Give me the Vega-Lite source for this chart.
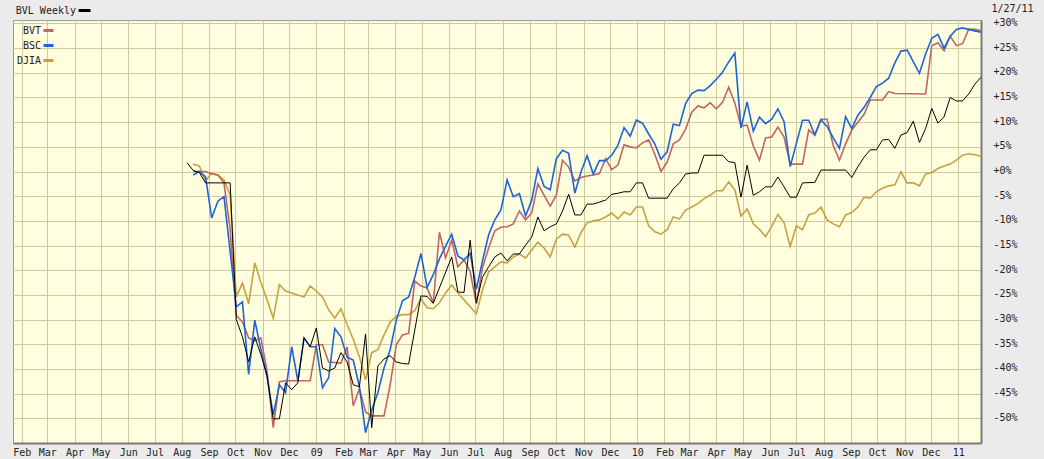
{
"$schema": "https://vega.github.io/schema/vega-lite/v6.json",
"width": 968, "height": 423,
"autosize": {"type": "none"},
"padding": {"left": 13, "top": 20, "right": 63, "bottom": 16},
"background": "#ebebeb",
"config": {
  "view": {"fill": "#ffffe0", "stroke": "#9a9a9a", "strokeWidth": 1},
  "font": "DejaVu Sans Mono",
  "axis": {"gridColor": "#cdcb9c", "gridWidth": 1, "gridOpacity": 1, "labelColor": "#222222", "labelFontSize": 10, "domainColor": "#7a7a7a", "domainWidth": 2, "ticks": false, "tickSize": 0, "titleColor": "#222222", "labelOverlap": false},
  "legend": {"padding": 0, "labelFontSize": 10, "labelColor": "#222222", "symbolType": "stroke", "symbolStrokeWidth": 3, "labelAlign": "right", "labelLimit": 0}
},
"data": {"values": [
{"s":"DJIA","d":"2008-08-14","v":1.5},{"s":"DJIA","d":"2008-08-21","v":1.1},{"s":"DJIA","d":"2008-08-28","v":-1.9},{"s":"DJIA","d":"2008-09-04","v":-0.3},{"s":"DJIA","d":"2008-09-11","v":-0.7},{"s":"DJIA","d":"2008-09-18","v":-1.7},{"s":"DJIA","d":"2008-09-25","v":-4.8},{"s":"DJIA","d":"2008-10-02","v":-25.4},{"s":"DJIA","d":"2008-10-09","v":-22.6},{"s":"DJIA","d":"2008-10-16","v":-26.8},{"s":"DJIA","d":"2008-10-23","v":-18.5},{"s":"DJIA","d":"2008-10-30","v":-22.5},{"s":"DJIA","d":"2008-11-06","v":-26.0},{"s":"DJIA","d":"2008-11-13","v":-29.7},{"s":"DJIA","d":"2008-11-20","v":-22.9},{"s":"DJIA","d":"2008-11-27","v":-24.2},{"s":"DJIA","d":"2008-12-04","v":-24.6},{"s":"DJIA","d":"2008-12-11","v":-25.0},{"s":"DJIA","d":"2008-12-18","v":-25.4},{"s":"DJIA","d":"2008-12-25","v":-23.2},{"s":"DJIA","d":"2009-01-01","v":-24.2},{"s":"DJIA","d":"2009-01-08","v":-25.4},{"s":"DJIA","d":"2009-01-15","v":-28.0},{"s":"DJIA","d":"2009-01-22","v":-29.7},{"s":"DJIA","d":"2009-01-29","v":-27.8},{"s":"DJIA","d":"2009-02-05","v":-31.0},{"s":"DJIA","d":"2009-02-12","v":-34.0},{"s":"DJIA","d":"2009-02-19","v":-37.5},{"s":"DJIA","d":"2009-02-26","v":-42.2},{"s":"DJIA","d":"2009-03-05","v":-36.7},{"s":"DJIA","d":"2009-03-12","v":-36.1},{"s":"DJIA","d":"2009-03-19","v":-33.1},{"s":"DJIA","d":"2009-03-26","v":-30.5},{"s":"DJIA","d":"2009-04-02","v":-29.3},{"s":"DJIA","d":"2009-04-09","v":-29.0},{"s":"DJIA","d":"2009-04-16","v":-29.0},{"s":"DJIA","d":"2009-04-23","v":-28.2},{"s":"DJIA","d":"2009-04-30","v":-25.8},{"s":"DJIA","d":"2009-05-07","v":-27.6},{"s":"DJIA","d":"2009-05-14","v":-27.8},{"s":"DJIA","d":"2009-05-21","v":-26.6},{"s":"DJIA","d":"2009-05-28","v":-24.6},{"s":"DJIA","d":"2009-06-04","v":-23.0},{"s":"DJIA","d":"2009-06-11","v":-24.6},{"s":"DJIA","d":"2009-06-18","v":-26.0},{"s":"DJIA","d":"2009-06-25","v":-27.4},{"s":"DJIA","d":"2009-07-02","v":-28.8},{"s":"DJIA","d":"2009-07-09","v":-24.0},{"s":"DJIA","d":"2009-07-16","v":-20.3},{"s":"DJIA","d":"2009-07-23","v":-19.3},{"s":"DJIA","d":"2009-07-30","v":-18.3},{"s":"DJIA","d":"2009-08-06","v":-18.5},{"s":"DJIA","d":"2009-08-13","v":-17.3},{"s":"DJIA","d":"2009-08-20","v":-16.7},{"s":"DJIA","d":"2009-08-27","v":-17.5},{"s":"DJIA","d":"2009-09-03","v":-15.9},{"s":"DJIA","d":"2009-09-10","v":-14.3},{"s":"DJIA","d":"2009-09-17","v":-15.5},{"s":"DJIA","d":"2009-09-24","v":-17.3},{"s":"DJIA","d":"2009-10-01","v":-13.7},{"s":"DJIA","d":"2009-10-08","v":-12.7},{"s":"DJIA","d":"2009-10-15","v":-12.9},{"s":"DJIA","d":"2009-10-22","v":-15.3},{"s":"DJIA","d":"2009-10-29","v":-12.4},{"s":"DJIA","d":"2009-11-05","v":-10.4},{"s":"DJIA","d":"2009-11-12","v":-10.0},{"s":"DJIA","d":"2009-11-19","v":-9.8},{"s":"DJIA","d":"2009-11-26","v":-9.2},{"s":"DJIA","d":"2009-12-03","v":-8.4},{"s":"DJIA","d":"2009-12-10","v":-9.6},{"s":"DJIA","d":"2009-12-17","v":-8.2},{"s":"DJIA","d":"2009-12-24","v":-8.8},{"s":"DJIA","d":"2009-12-31","v":-7.2},{"s":"DJIA","d":"2010-01-07","v":-7.2},{"s":"DJIA","d":"2010-01-14","v":-11.0},{"s":"DJIA","d":"2010-01-21","v":-12.2},{"s":"DJIA","d":"2010-01-28","v":-12.7},{"s":"DJIA","d":"2010-02-04","v":-11.8},{"s":"DJIA","d":"2010-02-11","v":-9.2},{"s":"DJIA","d":"2010-02-18","v":-9.6},{"s":"DJIA","d":"2010-02-25","v":-7.8},{"s":"DJIA","d":"2010-03-04","v":-7.2},{"s":"DJIA","d":"2010-03-11","v":-6.5},{"s":"DJIA","d":"2010-03-18","v":-5.5},{"s":"DJIA","d":"2010-03-25","v":-4.8},{"s":"DJIA","d":"2010-04-01","v":-3.9},{"s":"DJIA","d":"2010-04-08","v":-3.9},{"s":"DJIA","d":"2010-04-15","v":-2.1},{"s":"DJIA","d":"2010-04-22","v":-3.7},{"s":"DJIA","d":"2010-04-29","v":-9.0},{"s":"DJIA","d":"2010-05-06","v":-7.6},{"s":"DJIA","d":"2010-05-13","v":-10.6},{"s":"DJIA","d":"2010-05-20","v":-11.7},{"s":"DJIA","d":"2010-05-27","v":-13.2},{"s":"DJIA","d":"2010-06-03","v":-11.1},{"s":"DJIA","d":"2010-06-10","v":-8.7},{"s":"DJIA","d":"2010-06-17","v":-10.4},{"s":"DJIA","d":"2010-06-24","v":-15.2},{"s":"DJIA","d":"2010-07-01","v":-11.0},{"s":"DJIA","d":"2010-07-08","v":-11.8},{"s":"DJIA","d":"2010-07-15","v":-8.8},{"s":"DJIA","d":"2010-07-22","v":-8.4},{"s":"DJIA","d":"2010-07-29","v":-7.2},{"s":"DJIA","d":"2010-08-05","v":-9.8},{"s":"DJIA","d":"2010-08-12","v":-10.6},{"s":"DJIA","d":"2010-08-19","v":-11.2},{"s":"DJIA","d":"2010-08-26","v":-8.8},{"s":"DJIA","d":"2010-09-02","v":-8.3},{"s":"DJIA","d":"2010-09-09","v":-7.2},{"s":"DJIA","d":"2010-09-16","v":-5.2},{"s":"DJIA","d":"2010-09-23","v":-5.4},{"s":"DJIA","d":"2010-09-30","v":-4.1},{"s":"DJIA","d":"2010-10-07","v":-3.4},{"s":"DJIA","d":"2010-10-14","v":-2.9},{"s":"DJIA","d":"2010-10-21","v":-2.7},{"s":"DJIA","d":"2010-10-28","v":-0.1},{"s":"DJIA","d":"2010-11-04","v":-2.3},{"s":"DJIA","d":"2010-11-11","v":-2.3},{"s":"DJIA","d":"2010-11-18","v":-2.9},{"s":"DJIA","d":"2010-11-25","v":-0.5},{"s":"DJIA","d":"2010-12-02","v":-0.2},{"s":"DJIA","d":"2010-12-09","v":0.6},{"s":"DJIA","d":"2010-12-16","v":1.1},{"s":"DJIA","d":"2010-12-23","v":1.5},{"s":"DJIA","d":"2010-12-30","v":2.3},{"s":"DJIA","d":"2011-01-06","v":3.3},{"s":"DJIA","d":"2011-01-13","v":3.6},{"s":"DJIA","d":"2011-01-20","v":3.4},{"s":"DJIA","d":"2011-01-27","v":3.1},
{"s":"BVT","d":"2008-08-14","v":0.0},{"s":"BVT","d":"2008-08-21","v":0.0},{"s":"BVT","d":"2008-08-28","v":0.0},{"s":"BVT","d":"2008-09-04","v":-0.5},{"s":"BVT","d":"2008-09-11","v":-0.7},{"s":"BVT","d":"2008-09-18","v":-2.3},{"s":"BVT","d":"2008-09-25","v":-11.8},{"s":"BVT","d":"2008-10-02","v":-29.1},{"s":"BVT","d":"2008-10-09","v":-30.5},{"s":"BVT","d":"2008-10-16","v":-33.7},{"s":"BVT","d":"2008-10-23","v":-34.3},{"s":"BVT","d":"2008-10-30","v":-33.7},{"s":"BVT","d":"2008-11-06","v":-40.6},{"s":"BVT","d":"2008-11-13","v":-51.9},{"s":"BVT","d":"2008-11-20","v":-42.6},{"s":"BVT","d":"2008-11-27","v":-42.4},{"s":"BVT","d":"2008-12-25","v":-42.4},{"s":"BVT","d":"2009-01-01","v":-35.1},{"s":"BVT","d":"2009-01-08","v":-35.1},{"s":"BVT","d":"2009-01-15","v":-38.6},{"s":"BVT","d":"2009-01-29","v":-38.8},{"s":"BVT","d":"2009-02-05","v":-35.5},{"s":"BVT","d":"2009-02-12","v":-47.5},{"s":"BVT","d":"2009-02-19","v":-44.0},{"s":"BVT","d":"2009-02-26","v":-48.7},{"s":"BVT","d":"2009-03-05","v":-49.5},{"s":"BVT","d":"2009-03-19","v":-49.5},{"s":"BVT","d":"2009-03-26","v":-43.2},{"s":"BVT","d":"2009-04-02","v":-35.1},{"s":"BVT","d":"2009-04-09","v":-33.1},{"s":"BVT","d":"2009-04-16","v":-32.8},{"s":"BVT","d":"2009-04-23","v":-22.2},{"s":"BVT","d":"2009-04-30","v":-23.2},{"s":"BVT","d":"2009-05-07","v":-23.6},{"s":"BVT","d":"2009-05-14","v":-26.6},{"s":"BVT","d":"2009-05-21","v":-12.3},{"s":"BVT","d":"2009-05-28","v":-17.5},{"s":"BVT","d":"2009-06-04","v":-13.9},{"s":"BVT","d":"2009-06-11","v":-19.3},{"s":"BVT","d":"2009-06-18","v":-17.9},{"s":"BVT","d":"2009-06-25","v":-20.3},{"s":"BVT","d":"2009-07-02","v":-26.8},{"s":"BVT","d":"2009-07-09","v":-19.5},{"s":"BVT","d":"2009-07-16","v":-15.5},{"s":"BVT","d":"2009-07-23","v":-12.0},{"s":"BVT","d":"2009-07-30","v":-11.3},{"s":"BVT","d":"2009-08-06","v":-11.2},{"s":"BVT","d":"2009-08-13","v":-10.6},{"s":"BVT","d":"2009-08-20","v":-8.0},{"s":"BVT","d":"2009-08-27","v":-9.8},{"s":"BVT","d":"2009-09-03","v":-8.4},{"s":"BVT","d":"2009-09-10","v":-2.5},{"s":"BVT","d":"2009-09-17","v":-4.8},{"s":"BVT","d":"2009-09-24","v":-7.0},{"s":"BVT","d":"2009-10-01","v":-4.8},{"s":"BVT","d":"2009-10-08","v":2.3},{"s":"BVT","d":"2009-10-15","v":0.9},{"s":"BVT","d":"2009-10-22","v":-1.9},{"s":"BVT","d":"2009-10-29","v":-1.2},{"s":"BVT","d":"2009-11-05","v":-0.9},{"s":"BVT","d":"2009-11-12","v":-0.7},{"s":"BVT","d":"2009-11-19","v":-0.4},{"s":"BVT","d":"2009-11-26","v":2.6},{"s":"BVT","d":"2009-12-03","v":0.4},{"s":"BVT","d":"2009-12-10","v":1.3},{"s":"BVT","d":"2009-12-17","v":5.4},{"s":"BVT","d":"2009-12-24","v":5.0},{"s":"BVT","d":"2009-12-31","v":4.8},{"s":"BVT","d":"2010-01-07","v":5.8},{"s":"BVT","d":"2010-01-14","v":6.4},{"s":"BVT","d":"2010-01-21","v":3.5},{"s":"BVT","d":"2010-01-28","v":0.0},{"s":"BVT","d":"2010-02-04","v":1.9},{"s":"BVT","d":"2010-02-11","v":5.6},{"s":"BVT","d":"2010-02-18","v":6.4},{"s":"BVT","d":"2010-02-25","v":8.6},{"s":"BVT","d":"2010-03-04","v":12.0},{"s":"BVT","d":"2010-03-11","v":13.3},{"s":"BVT","d":"2010-03-18","v":12.9},{"s":"BVT","d":"2010-03-25","v":13.9},{"s":"BVT","d":"2010-04-01","v":12.7},{"s":"BVT","d":"2010-04-08","v":14.0},{"s":"BVT","d":"2010-04-15","v":17.1},{"s":"BVT","d":"2010-04-22","v":13.9},{"s":"BVT","d":"2010-04-29","v":9.2},{"s":"BVT","d":"2010-05-06","v":9.4},{"s":"BVT","d":"2010-05-13","v":5.2},{"s":"BVT","d":"2010-05-20","v":2.3},{"s":"BVT","d":"2010-05-27","v":6.8},{"s":"BVT","d":"2010-06-03","v":7.0},{"s":"BVT","d":"2010-06-10","v":9.0},{"s":"BVT","d":"2010-06-17","v":7.0},{"s":"BVT","d":"2010-06-24","v":1.5},{"s":"BVT","d":"2010-07-08","v":1.5},{"s":"BVT","d":"2010-07-15","v":8.4},{"s":"BVT","d":"2010-07-22","v":7.4},{"s":"BVT","d":"2010-07-29","v":10.6},{"s":"BVT","d":"2010-08-05","v":10.6},{"s":"BVT","d":"2010-08-12","v":5.2},{"s":"BVT","d":"2010-08-19","v":2.3},{"s":"BVT","d":"2010-08-26","v":5.6},{"s":"BVT","d":"2010-09-02","v":8.4},{"s":"BVT","d":"2010-09-09","v":10.0},{"s":"BVT","d":"2010-09-16","v":11.6},{"s":"BVT","d":"2010-09-23","v":14.5},{"s":"BVT","d":"2010-10-07","v":14.5},{"s":"BVT","d":"2010-10-14","v":16.2},{"s":"BVT","d":"2010-10-21","v":15.8},{"s":"BVT","d":"2010-11-25","v":15.7},{"s":"BVT","d":"2010-12-02","v":25.5},{"s":"BVT","d":"2010-12-09","v":26.1},{"s":"BVT","d":"2010-12-16","v":24.5},{"s":"BVT","d":"2010-12-23","v":27.4},{"s":"BVT","d":"2010-12-30","v":25.5},{"s":"BVT","d":"2011-01-06","v":25.9},{"s":"BVT","d":"2011-01-13","v":28.8},{"s":"BVT","d":"2011-01-20","v":28.8},{"s":"BVT","d":"2011-01-27","v":28.5},
{"s":"BSC","d":"2008-08-14","v":-0.7},{"s":"BSC","d":"2008-08-21","v":0.0},{"s":"BSC","d":"2008-08-28","v":-1.1},{"s":"BSC","d":"2008-09-04","v":-9.4},{"s":"BSC","d":"2008-09-11","v":-6.0},{"s":"BSC","d":"2008-09-18","v":-5.1},{"s":"BSC","d":"2008-10-02","v":-27.4},{"s":"BSC","d":"2008-10-09","v":-26.4},{"s":"BSC","d":"2008-10-16","v":-41.1},{"s":"BSC","d":"2008-10-23","v":-30.1},{"s":"BSC","d":"2008-10-30","v":-36.1},{"s":"BSC","d":"2008-11-06","v":-41.6},{"s":"BSC","d":"2008-11-13","v":-49.3},{"s":"BSC","d":"2008-11-20","v":-43.2},{"s":"BSC","d":"2008-11-27","v":-44.8},{"s":"BSC","d":"2008-12-04","v":-35.5},{"s":"BSC","d":"2008-12-11","v":-42.4},{"s":"BSC","d":"2008-12-18","v":-33.7},{"s":"BSC","d":"2008-12-25","v":-35.5},{"s":"BSC","d":"2009-01-01","v":-35.5},{"s":"BSC","d":"2009-01-08","v":-43.8},{"s":"BSC","d":"2009-01-15","v":-41.8},{"s":"BSC","d":"2009-01-22","v":-31.8},{"s":"BSC","d":"2009-01-29","v":-33.5},{"s":"BSC","d":"2009-02-05","v":-37.6},{"s":"BSC","d":"2009-02-12","v":-38.2},{"s":"BSC","d":"2009-02-19","v":-43.6},{"s":"BSC","d":"2009-02-26","v":-52.9},{"s":"BSC","d":"2009-03-05","v":-48.3},{"s":"BSC","d":"2009-03-12","v":-44.8},{"s":"BSC","d":"2009-03-19","v":-39.8},{"s":"BSC","d":"2009-03-26","v":-36.1},{"s":"BSC","d":"2009-04-02","v":-30.1},{"s":"BSC","d":"2009-04-09","v":-26.2},{"s":"BSC","d":"2009-04-16","v":-25.4},{"s":"BSC","d":"2009-04-23","v":-21.4},{"s":"BSC","d":"2009-04-30","v":-16.6},{"s":"BSC","d":"2009-05-07","v":-23.5},{"s":"BSC","d":"2009-05-14","v":-20.9},{"s":"BSC","d":"2009-05-21","v":-17.7},{"s":"BSC","d":"2009-05-28","v":-15.1},{"s":"BSC","d":"2009-06-04","v":-12.7},{"s":"BSC","d":"2009-06-11","v":-17.1},{"s":"BSC","d":"2009-06-18","v":-17.9},{"s":"BSC","d":"2009-06-25","v":-16.6},{"s":"BSC","d":"2009-07-02","v":-23.8},{"s":"BSC","d":"2009-07-09","v":-18.1},{"s":"BSC","d":"2009-07-16","v":-12.8},{"s":"BSC","d":"2009-07-23","v":-9.8},{"s":"BSC","d":"2009-07-30","v":-7.8},{"s":"BSC","d":"2009-08-06","v":-1.7},{"s":"BSC","d":"2009-08-13","v":-5.1},{"s":"BSC","d":"2009-08-20","v":-4.5},{"s":"BSC","d":"2009-08-27","v":-9.0},{"s":"BSC","d":"2009-09-03","v":-5.8},{"s":"BSC","d":"2009-09-10","v":0.6},{"s":"BSC","d":"2009-09-17","v":-3.0},{"s":"BSC","d":"2009-09-24","v":-3.7},{"s":"BSC","d":"2009-10-01","v":2.6},{"s":"BSC","d":"2009-10-08","v":4.3},{"s":"BSC","d":"2009-10-15","v":3.7},{"s":"BSC","d":"2009-10-22","v":-4.4},{"s":"BSC","d":"2009-10-29","v":-0.1},{"s":"BSC","d":"2009-11-05","v":3.2},{"s":"BSC","d":"2009-11-12","v":-0.5},{"s":"BSC","d":"2009-11-19","v":2.2},{"s":"BSC","d":"2009-11-26","v":2.2},{"s":"BSC","d":"2009-12-03","v":3.3},{"s":"BSC","d":"2009-12-10","v":5.3},{"s":"BSC","d":"2009-12-17","v":8.9},{"s":"BSC","d":"2009-12-24","v":7.2},{"s":"BSC","d":"2009-12-31","v":10.4},{"s":"BSC","d":"2010-01-07","v":9.8},{"s":"BSC","d":"2010-01-14","v":7.6},{"s":"BSC","d":"2010-01-21","v":5.6},{"s":"BSC","d":"2010-01-28","v":2.5},{"s":"BSC","d":"2010-02-04","v":4.0},{"s":"BSC","d":"2010-02-11","v":9.6},{"s":"BSC","d":"2010-02-18","v":9.3},{"s":"BSC","d":"2010-02-25","v":13.8},{"s":"BSC","d":"2010-03-04","v":15.8},{"s":"BSC","d":"2010-03-11","v":16.5},{"s":"BSC","d":"2010-03-18","v":16.4},{"s":"BSC","d":"2010-03-25","v":17.4},{"s":"BSC","d":"2010-04-01","v":18.7},{"s":"BSC","d":"2010-04-08","v":20.1},{"s":"BSC","d":"2010-04-15","v":22.2},{"s":"BSC","d":"2010-04-22","v":24.0},{"s":"BSC","d":"2010-04-29","v":8.8},{"s":"BSC","d":"2010-05-06","v":14.1},{"s":"BSC","d":"2010-05-13","v":8.2},{"s":"BSC","d":"2010-05-20","v":11.0},{"s":"BSC","d":"2010-05-27","v":9.7},{"s":"BSC","d":"2010-06-03","v":10.6},{"s":"BSC","d":"2010-06-10","v":12.7},{"s":"BSC","d":"2010-06-17","v":10.1},{"s":"BSC","d":"2010-06-24","v":1.0},{"s":"BSC","d":"2010-07-01","v":5.7},{"s":"BSC","d":"2010-07-08","v":10.4},{"s":"BSC","d":"2010-07-15","v":10.4},{"s":"BSC","d":"2010-07-22","v":7.4},{"s":"BSC","d":"2010-07-29","v":10.5},{"s":"BSC","d":"2010-08-05","v":9.1},{"s":"BSC","d":"2010-08-12","v":6.8},{"s":"BSC","d":"2010-08-19","v":4.7},{"s":"BSC","d":"2010-08-26","v":11.1},{"s":"BSC","d":"2010-09-02","v":8.7},{"s":"BSC","d":"2010-09-09","v":11.4},{"s":"BSC","d":"2010-09-16","v":13.0},{"s":"BSC","d":"2010-09-23","v":15.0},{"s":"BSC","d":"2010-09-30","v":17.2},{"s":"BSC","d":"2010-10-07","v":17.9},{"s":"BSC","d":"2010-10-14","v":18.9},{"s":"BSC","d":"2010-10-21","v":22.0},{"s":"BSC","d":"2010-10-28","v":24.4},{"s":"BSC","d":"2010-11-04","v":24.6},{"s":"BSC","d":"2010-11-18","v":19.9},{"s":"BSC","d":"2010-11-25","v":23.8},{"s":"BSC","d":"2010-12-02","v":27.0},{"s":"BSC","d":"2010-12-09","v":27.8},{"s":"BSC","d":"2010-12-16","v":25.0},{"s":"BSC","d":"2010-12-23","v":27.4},{"s":"BSC","d":"2010-12-30","v":28.8},{"s":"BSC","d":"2011-01-06","v":29.1},{"s":"BSC","d":"2011-01-13","v":28.8},{"s":"BSC","d":"2011-01-20","v":28.5},{"s":"BSC","d":"2011-01-27","v":28.2},
{"s":"BVL","d":"2008-08-07","v":1.8},{"s":"BVL","d":"2008-08-14","v":0.2},{"s":"BVL","d":"2008-08-21","v":-0.2},{"s":"BVL","d":"2008-08-28","v":-2.3},{"s":"BVL","d":"2008-09-25","v":-2.3},{"s":"BVL","d":"2008-10-02","v":-30.0},{"s":"BVL","d":"2008-10-09","v":-33.5},{"s":"BVL","d":"2008-10-16","v":-38.6},{"s":"BVL","d":"2008-10-23","v":-33.5},{"s":"BVL","d":"2008-10-30","v":-37.1},{"s":"BVL","d":"2008-11-06","v":-41.4},{"s":"BVL","d":"2008-11-13","v":-50.1},{"s":"BVL","d":"2008-11-20","v":-50.1},{"s":"BVL","d":"2008-11-27","v":-42.8},{"s":"BVL","d":"2008-12-04","v":-44.2},{"s":"BVL","d":"2008-12-11","v":-42.8},{"s":"BVL","d":"2008-12-18","v":-33.7},{"s":"BVL","d":"2008-12-25","v":-35.5},{"s":"BVL","d":"2009-01-01","v":-31.7},{"s":"BVL","d":"2009-01-08","v":-39.8},{"s":"BVL","d":"2009-01-15","v":-40.4},{"s":"BVL","d":"2009-01-22","v":-39.8},{"s":"BVL","d":"2009-01-29","v":-36.7},{"s":"BVL","d":"2009-02-05","v":-38.6},{"s":"BVL","d":"2009-02-12","v":-43.2},{"s":"BVL","d":"2009-02-19","v":-43.6},{"s":"BVL","d":"2009-02-26","v":-32.9},{"s":"BVL","d":"2009-03-05","v":-51.9},{"s":"BVL","d":"2009-03-12","v":-39.4},{"s":"BVL","d":"2009-03-19","v":-38.0},{"s":"BVL","d":"2009-03-26","v":-37.3},{"s":"BVL","d":"2009-04-02","v":-38.6},{"s":"BVL","d":"2009-04-09","v":-38.9},{"s":"BVL","d":"2009-04-16","v":-39.0},{"s":"BVL","d":"2009-04-30","v":-25.2},{"s":"BVL","d":"2009-05-07","v":-25.3},{"s":"BVL","d":"2009-05-14","v":-26.7},{"s":"BVL","d":"2009-06-04","v":-17.3},{"s":"BVL","d":"2009-06-11","v":-24.4},{"s":"BVL","d":"2009-06-18","v":-24.5},{"s":"BVL","d":"2009-06-25","v":-13.9},{"s":"BVL","d":"2009-07-02","v":-26.6},{"s":"BVL","d":"2009-07-09","v":-21.4},{"s":"BVL","d":"2009-07-16","v":-19.3},{"s":"BVL","d":"2009-07-23","v":-17.3},{"s":"BVL","d":"2009-07-30","v":-16.5},{"s":"BVL","d":"2009-08-06","v":-18.1},{"s":"BVL","d":"2009-08-13","v":-16.7},{"s":"BVL","d":"2009-08-20","v":-16.7},{"s":"BVL","d":"2009-08-27","v":-14.9},{"s":"BVL","d":"2009-09-03","v":-13.3},{"s":"BVL","d":"2009-09-10","v":-9.2},{"s":"BVL","d":"2009-09-17","v":-12.0},{"s":"BVL","d":"2009-09-24","v":-11.2},{"s":"BVL","d":"2009-10-01","v":-10.6},{"s":"BVL","d":"2009-10-08","v":-8.0},{"s":"BVL","d":"2009-10-15","v":-4.6},{"s":"BVL","d":"2009-10-22","v":-8.8},{"s":"BVL","d":"2009-10-29","v":-8.8},{"s":"BVL","d":"2009-11-05","v":-6.6},{"s":"BVL","d":"2009-11-12","v":-6.6},{"s":"BVL","d":"2009-11-19","v":-6.2},{"s":"BVL","d":"2009-11-26","v":-5.8},{"s":"BVL","d":"2009-12-03","v":-4.6},{"s":"BVL","d":"2009-12-10","v":-4.4},{"s":"BVL","d":"2009-12-17","v":-4.1},{"s":"BVL","d":"2009-12-24","v":-4.1},{"s":"BVL","d":"2009-12-31","v":-2.3},{"s":"BVL","d":"2010-01-07","v":-2.3},{"s":"BVL","d":"2010-01-14","v":-5.4},{"s":"BVL","d":"2010-02-04","v":-5.4},{"s":"BVL","d":"2010-02-11","v":-3.5},{"s":"BVL","d":"2010-02-18","v":-2.3},{"s":"BVL","d":"2010-02-25","v":-0.5},{"s":"BVL","d":"2010-03-04","v":-0.3},{"s":"BVL","d":"2010-03-11","v":-0.3},{"s":"BVL","d":"2010-03-18","v":3.3},{"s":"BVL","d":"2010-04-08","v":3.3},{"s":"BVL","d":"2010-04-15","v":2.0},{"s":"BVL","d":"2010-04-22","v":1.8},{"s":"BVL","d":"2010-04-29","v":-5.2},{"s":"BVL","d":"2010-05-06","v":1.3},{"s":"BVL","d":"2010-05-13","v":-4.8},{"s":"BVL","d":"2010-05-20","v":-4.1},{"s":"BVL","d":"2010-05-27","v":-3.1},{"s":"BVL","d":"2010-06-03","v":-3.1},{"s":"BVL","d":"2010-06-10","v":-1.1},{"s":"BVL","d":"2010-06-17","v":-3.1},{"s":"BVL","d":"2010-06-24","v":-5.2},{"s":"BVL","d":"2010-07-01","v":-5.2},{"s":"BVL","d":"2010-07-08","v":-2.3},{"s":"BVL","d":"2010-07-22","v":-2.2},{"s":"BVL","d":"2010-07-29","v":0.3},{"s":"BVL","d":"2010-08-26","v":0.3},{"s":"BVL","d":"2010-09-02","v":-1.2},{"s":"BVL","d":"2010-09-09","v":1.0},{"s":"BVL","d":"2010-09-16","v":2.9},{"s":"BVL","d":"2010-09-23","v":4.4},{"s":"BVL","d":"2010-09-30","v":4.4},{"s":"BVL","d":"2010-10-07","v":6.4},{"s":"BVL","d":"2010-10-14","v":6.5},{"s":"BVL","d":"2010-10-21","v":4.7},{"s":"BVL","d":"2010-10-28","v":7.4},{"s":"BVL","d":"2010-11-04","v":7.9},{"s":"BVL","d":"2010-11-11","v":10.2},{"s":"BVL","d":"2010-11-18","v":5.9},{"s":"BVL","d":"2010-11-25","v":8.7},{"s":"BVL","d":"2010-12-02","v":12.8},{"s":"BVL","d":"2010-12-09","v":9.8},{"s":"BVL","d":"2010-12-16","v":11.1},{"s":"BVL","d":"2010-12-23","v":15.0},{"s":"BVL","d":"2010-12-30","v":14.3},{"s":"BVL","d":"2011-01-06","v":14.3},{"s":"BVL","d":"2011-01-13","v":15.7},{"s":"BVL","d":"2011-01-20","v":17.7},{"s":"BVL","d":"2011-01-27","v":19.1}
]},
"encoding": {
  "x": {"field": "d", "type": "temporal",
    "scale": {"type": "utc", "domain": [{"year": 2008, "month": 1, "date": 22, "utc": true}, {"year": 2011, "month": 1, "date": 27, "utc": true}]},
    "axis": {"orient": "bottom", "title": null, "tickCount": {"interval": "month", "step": 1}, "labelExpr": "utcFormat(datum.value, '%m') == '01' ? utcFormat(datum.value, '%y') : utcFormat(datum.value, '%b')", "grid": true, "labelPadding": 4, "labelOverlap": false, "labelFlush": false, "labelAlign": "center"}},
  "y": {"field": "v", "type": "quantitative",
    "scale": {"domain": [-55, 30.7], "nice": false, "zero": false},
    "axis": {"orient": "right", "values": [-50,-45,-40,-35,-30,-25,-20,-15,-10,-5,0,5,10,15,20,25,30], "labelExpr": "(datum.value >= 0 ? '+' : '') + datum.value + '%'", "grid": true, "labelOverlap": false, "labelPadding": 12, "labelAlign": "left", "labelOffset": -1, "title": "1/27/11", "titleAngle": 0, "titleX": 31, "titleY": -12, "titleAlign": "center", "titleBaseline": "middle", "titleFontWeight": "normal", "titleFontSize": 10}}
},
"layer": [
  {
    "transform": [{"filter": "datum.s != 'BVL'"}],
    "mark": {"type": "line", "strokeWidth": 1.6},
    "encoding": {
      "color": {"field": "s", "type": "nominal",
        "scale": {"domain": ["BVT", "BSC", "DJIA"], "range": ["#c06464", "#1e64d8", "#c9a040"]},
        "legend": {"orient": "none", "legendX": 29, "legendY": 4, "title": null, "symbolSize": 100, "labelOffset": -14, "rowPadding": 2}}
    }
  },
  {
    "transform": [{"filter": "datum.s == 'BVL'"}],
    "mark": {"type": "line", "strokeWidth": 1},
    "encoding": {
      "color": {"field": "s", "type": "nominal",
        "scale": {"domain": ["BVL"], "range": ["#000000"]},
        "legend": {"orient": "none", "legendX": 64, "legendY": -17, "title": null, "symbolSize": 144, "labelOffset": -16, "labelExpr": "datum.label + ' Weekly'"}}
    }
  }
],
"resolve": {"scale": {"color": "independent"}, "legend": {"color": "independent"}}
}
